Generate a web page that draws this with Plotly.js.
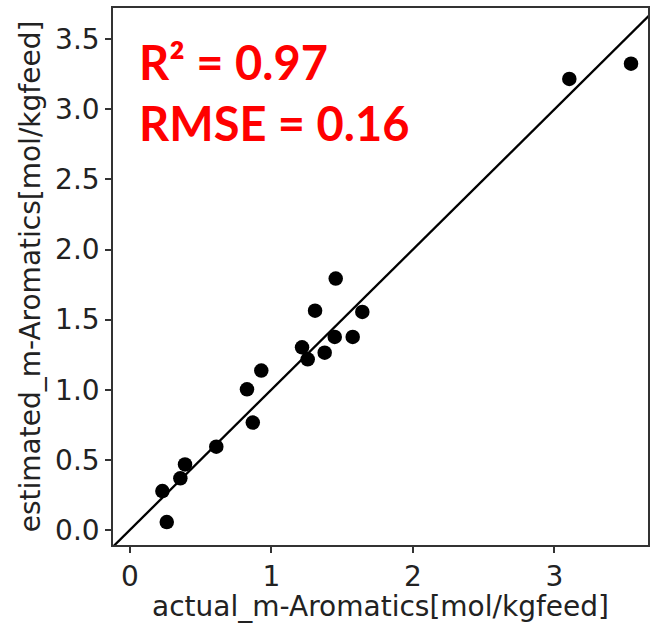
<!DOCTYPE html>
<html><head><meta charset="utf-8">
<script src="https://cdn.plot.ly/plotly-3.0.1.min.js"></script>
<style>body{margin:0;background:#fff}</style>
</head><body>
<div id="chart" style="width:650px;height:623px"></div>
<script>
var actual = [0.230, 0.261, 0.357, 0.390, 0.611, 0.828, 0.869, 0.929, 1.217, 1.257, 1.309, 1.377, 1.448, 1.455, 1.575, 1.643, 3.106, 3.542];
var estimated = [0.278, 0.057, 0.369, 0.468, 0.594, 1.003, 0.766, 1.137, 1.303, 1.217, 1.564, 1.265, 1.377, 1.793, 1.377, 1.555, 3.217, 3.326];
var diagLine = [-0.5, 4.5];
var xTicks = [0, 1, 2, 3];
var yTicks = [0.0, 0.5, 1.0, 1.5, 2.0, 2.5, 3.0, 3.5];
var yTickText = ["0.0", "0.5", "1.0", "1.5", "2.0", "2.5", "3.0", "3.5"];
var xTitle = "actual_m-Aromatics[mol/kgfeed]";
var yTitle = "estimated_m-Aromatics[mol/kgfeed]";
var statLines = ["R\u00b2 = 0.97", "RMSE = 0.16"];

var traces = [
  {x: diagLine, y: diagLine, mode: "lines", line: {color: "#000", width: 2.3}, hoverinfo: "skip", showlegend: false},
  {x: actual, y: estimated, mode: "markers", marker: {color: "#000", size: 14.5}, showlegend: false, cliponaxis: false}
];
var tickFont = {family: "DejaVu Sans", size: 28, color: "#222"};
var layout = {
  width: 650, height: 623,
  margin: {l: 113, r: 2, t: 8, b: 78},
  paper_bgcolor: "#fff", plot_bgcolor: "#fff",
  xaxis: {range: [-0.119, 3.662], tickvals: xTicks, ticktext: xTicks.map(String),
    showgrid: false, zeroline: false, showline: true, mirror: true, linecolor: "#333", linewidth: 1.5,
    ticks: "outside", ticklen: 6, tickwidth: 1.5, tickcolor: "#333", tickfont: tickFont,
    title: {text: xTitle, font: tickFont, standoff: 4}},
  yaxis: {range: [-0.107, 3.723], tickvals: yTicks, ticktext: yTickText,
    showgrid: false, zeroline: false, showline: true, mirror: true, linecolor: "#333", linewidth: 1.5,
    ticks: "outside", ticklen: 6, tickwidth: 1.5, tickcolor: "#333", tickfont: tickFont,
    title: {text: yTitle, font: tickFont, standoff: 6}},
  annotations: [
    {xref: "paper", yref: "paper", x: 0.045, y: 0.90, xanchor: "left", yanchor: "middle", showarrow: false,
     text: "<b>" + statLines[0] + "</b>", font: {family: "Lato", size: 47, color: "#ff0000"}},
    {xref: "paper", yref: "paper", x: 0.045, y: 0.785, xanchor: "left", yanchor: "middle", showarrow: false,
     text: "<b>" + statLines[1] + "</b>", font: {family: "Lato", size: 47, color: "#ff0000"}}
  ]
};
Plotly.newPlot("chart", traces, layout, {displayModeBar: false});
</script>
</body></html>
